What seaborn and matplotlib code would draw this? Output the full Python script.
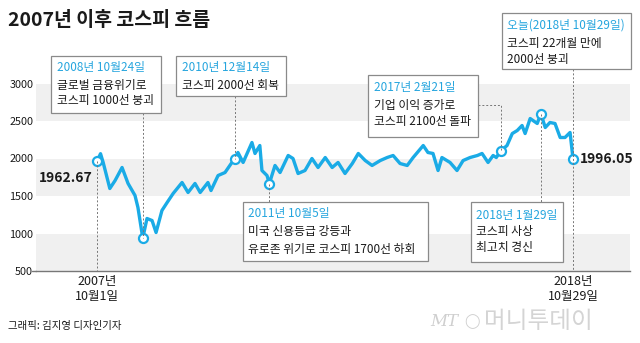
import matplotlib
matplotlib.use("Agg")
import matplotlib.pyplot as plt
import matplotlib.dates as mdates
from matplotlib.patches import Rectangle
from matplotlib.lines import Line2D
import pandas as pd
import seaborn as sns

# ---------------- data ----------------
dates = [
    "2007-10-01", "2007-10-31", "2007-11-22", "2008-01-18", "2008-03-03", "2008-05-01",
    "2008-06-21", "2008-08-19", "2008-09-13", "2008-10-24", "2008-11-29", "2009-01-11",
    "2009-02-14", "2009-04-05", "2009-05-19", "2009-07-09", "2009-09-23", "2009-11-13",
    "2010-01-11", "2010-02-24", "2010-05-01", "2010-05-27", "2010-07-26", "2010-09-23",
    "2010-12-14", "2011-01-11", "2011-02-24", "2011-05-10", "2011-06-05", "2011-07-16",
    "2011-08-03", "2011-09-15", "2011-10-05", "2011-11-22", "2012-01-04", "2012-03-13",
    "2012-04-23", "2012-06-05", "2012-08-03", "2012-10-01", "2012-11-22", "2013-01-22",
    "2013-03-22", "2013-05-11", "2013-07-09", "2013-09-09", "2013-10-30", "2013-12-28",
    "2014-02-24", "2014-05-05", "2014-07-02", "2014-08-22", "2014-10-20", "2014-12-20",
    "2015-02-08", "2015-05-05", "2015-06-14", "2015-07-27", "2015-09-08", "2015-10-11",
    "2015-12-19", "2016-02-16", "2016-04-08", "2016-06-06", "2016-08-07", "2016-09-16",
    "2016-11-06", "2016-12-19", "2017-01-15", "2017-02-21", "2017-04-16", "2017-05-31",
    "2017-07-12", "2017-08-22", "2017-09-17", "2017-10-30", "2017-12-29", "2018-01-29",
    "2018-03-07", "2018-04-16", "2018-05-29", "2018-07-12", "2018-08-22", "2018-10-04",
    "2018-10-29",
]
values = [
    1962.67, 2064, 1950, 1600, 1707, 1880,
    1667, 1507, 1347, 938.75, 1200, 1173,
    1013, 1307, 1413, 1533, 1680, 1547,
    1667, 1547, 1680, 1573, 1773, 1813,
    2000, 2080, 1947, 2213, 2067, 2173,
    1840, 1773, 1666.52, 1907, 1813, 2040,
    2000, 1800, 1840, 2000, 1880, 2013,
    1880, 1947, 1800, 1933, 2067, 1973,
    1907, 1973, 2013, 2040, 1933, 1907,
    2013, 2173, 2080, 2067, 1840, 2013,
    1947, 1840, 1973, 2013, 2040, 2067,
    1947, 2040, 2013, 2100, 2173, 2333,
    2373, 2440, 2333, 2533, 2467, 2598.19,
    2413, 2480, 2467, 2280, 2280, 2347,
    1996.05,
]
event_dates = ["2007-10-01", "2008-10-24", "2010-12-14", "2011-10-05",
               "2017-02-21", "2018-01-29", "2018-10-29"]
event_values = [1962.67, 938.75, 2000, 1666.52, 2100, 2598.19, 1996.05]

y_ticks = [500, 1000, 1500, 2000, 2500, 3000]
gray_bands = [(500, 1000), (1500, 2000), (2500, 3000)]

title = "2007년 이후 코스피 흐름"
start_label = "1962.67"
end_label = "1996.05"
x_tick_labels = ["2007년\n10월1일", "2018년\n10월29일"]
credit = "그래픽: 김지영 디자인기자"

boxes = [
    # (head, body lines)
    ("2008년 10월24일", ["글로벌 금융위기로", "코스피 1000선 붕괴"]),
    ("2010년 12월14일", ["코스피 2000선 회복"]),
    ("2017년 2월21일", ["기업 이익 증가로", "코스피 2100선 돌파"]),
    ("오늘(2018년 10월29일)", ["코스피 22개월 만에", "2000선 붕괴"]),
    ("2011년 10월5일", ["미국 신용등급 강등과", "유로존 위기로 코스피 1700선 하회"]),
    ("2018년 1월29일", ["코스피 사상", "최고치 경신"]),
]

# ---------------- styling ----------------
sns.set_theme(style="white")
plt.rcParams["font.family"] = ["Noto Sans CJK KR", "DejaVu Sans"]

BLUE = "#1AABE6"
HEAD = "#25A5DE"
DARK = "#1a1a1a"
W, H = 640, 343

fig = plt.figure(figsize=(6.4, 3.43), dpi=100)
fig.patch.set_facecolor("white")

ax_l, ax_r, ax_top, ax_bot = 36, 630, 83.5, 271
ax = fig.add_axes([ax_l / W, (H - ax_bot) / H, (ax_r - ax_l) / W, (ax_bot - ax_top) / H])
ax.set_facecolor("white")

df = pd.DataFrame({"date": pd.to_datetime(dates), "kospi": values})
ev = pd.DataFrame({"date": pd.to_datetime(event_dates), "kospi": event_values})

# x limits from pixel layout: first date at px 97, last at px 573
d0 = mdates.date2num(df["date"].iloc[0])
d1 = mdates.date2num(df["date"].iloc[-1])
dpp = (d1 - d0) / (573 - 97)
ax.set_xlim(d0 - (97 - ax_l) * dpp, d1 + (ax_r - 573) * dpp)
ax.set_ylim(500, 3000)

for lo, hi in gray_bands:
    ax.axhspan(lo, hi, color="#F0F0F0", lw=0, zorder=0)

sns.lineplot(data=df, x="date", y="kospi", ax=ax, color=BLUE, lw=2.4, zorder=3)
ax.plot(ev["date"], ev["kospi"], ls="none", marker="o", ms=6.5, mfc="white",
        mec=BLUE, mew=1.6, zorder=5)

ax.set_xlabel("")
ax.set_ylabel("")
ax.set_xticks([])
ax.set_yticks(y_ticks)
ax.set_yticklabels([str(v) for v in y_ticks], fontsize=7.8, color=DARK)
ax.tick_params(axis="y", length=0, pad=2)
for s in ["top", "right", "left"]:
    ax.spines[s].set_visible(False)
ax.spines["bottom"].set_color("#777777")
ax.spines["bottom"].set_linewidth(1.0)
fig.add_artist(Line2D([32 / W, ax_l / W], [(H - ax_bot) / H] * 2, color="#777777", lw=1.0))

fig.canvas.draw()


def fx(px):
    return px / W


def fy(py):
    return (H - py) / H


def to_fig(date_str, val):
    disp = ax.transData.transform((mdates.date2num(pd.Timestamp(date_str)), val))
    return disp[0] / W, disp[1] / H


dash = dict(color="#777777", lw=0.7, ls=(0, (2, 2)), zorder=1)


def vline_fig(xf, y0f, y1f):
    fig.add_artist(Line2D([xf, xf], [y0f, y1f], **dash))


# leader lines
x, y = to_fig(event_dates[0], event_values[0])
vline_fig(x, y, fy(ax_bot))
x, y = to_fig(event_dates[1], event_values[1])
vline_fig(x, fy(113), y)
x, y = to_fig(event_dates[2], event_values[2])
vline_fig(x, fy(96), y)
x, y = to_fig(event_dates[3], event_values[3])
vline_fig(x, y, fy(202))
x, y = to_fig(event_dates[4], event_values[4])
fig.add_artist(Line2D([fx(478), x, x], [fy(105), fy(105), y], **dash))
x, y = to_fig(event_dates[5], event_values[5])
vline_fig(x, y, fy(202))
x, y = to_fig(event_dates[6], event_values[6])
vline_fig(x, fy(69), fy(ax_bot))

# annotation boxes: (left, top, right, bottom, text x, line ys)
box_geo = [
    (51, 56, 161, 113, 57, [68, 85, 101]),
    (176, 56, 286, 96, 182, [68, 85]),
    (368, 75, 478, 137, 374, [88, 105, 122]),
    (502, 13, 631, 69, 507, [25, 43, 60]),
    (243, 202, 428, 261, 248, [214, 232, 249]),
    (471, 202, 563, 262, 476, [215, 232, 248]),
]
for (head, body), (l, t, r, b, tx, ys) in zip(boxes, box_geo):
    fig.add_artist(Rectangle((fx(l), fy(b)), fx(r) - fx(l), fy(t) - fy(b),
                             facecolor="white", edgecolor="#8a8a8a", lw=0.9, zorder=6))
    fig.text(fx(tx), fy(ys[0]), head, color=HEAD, fontsize=8.5, va="center",
             ha="left", zorder=7)
    for line, yy in zip(body, ys[1:]):
        fig.text(fx(tx), fy(yy), line, color=DARK, fontsize=8.5, va="center",
                 ha="left", zorder=7)

# value labels
fig.text(fx(93), fy(178), start_label, fontsize=10, fontweight="bold", color=DARK,
         ha="right", va="center")
x, y = to_fig(event_dates[-1], event_values[-1])
fig.text(x + fx(7), y, end_label, fontsize=10, fontweight="bold", color=DARK,
         ha="left", va="center")

# x labels
for d, lab in zip([event_dates[0], event_dates[-1]], x_tick_labels):
    x, _ = to_fig(d, 500)
    fig.text(x, fy(289), lab, fontsize=9, color=DARK, ha="center", va="center",
             linespacing=1.2)

# title & credit
fig.text(fx(8), fy(20), title, fontsize=14, fontweight="bold", color=DARK,
         ha="left", va="center")
fig.text(fx(8), fy(326), credit, fontsize=7.5, color=DARK, ha="left", va="center")

# watermark
fig.text(fx(430), fy(322), "MT", fontsize=12, style="italic", color="#cfcfcf",
         ha="left", va="center", family=["DejaVu Serif"])
fig.text(fx(464), fy(322), "◯", fontsize=10, color="#cfcfcf", ha="left", va="center",
         family=["DejaVu Sans"])
fig.text(fx(484), fy(322), "머니투데이", fontsize=17, color="#d4d4d4", ha="left",
         va="center", fontweight="light")

fig.savefig("out.png", dpi=100, facecolor="white")
